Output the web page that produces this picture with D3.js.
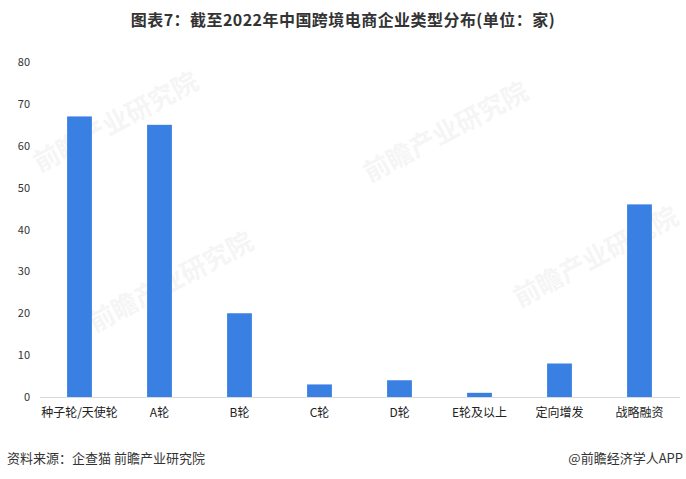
<!DOCTYPE html>
<html><head><meta charset="utf-8">
<script src="https://cdn.jsdelivr.net/npm/d3@7/dist/d3.min.js"></script>
<style>body{margin:0;background:#fff}svg{display:block}</style>
</head><body>
<script>
const categories = ["种子轮/天使轮","A轮","B轮","C轮","D轮","E轮及以上","定向增发","战略融资"];
const values = [67, 65, 20, 3, 4, 1, 8, 46];
const yTicks = [0,10,20,30,40,50,60,70,80];
const title = "图表7：截至2022年中国跨境电商企业类型分布(单位：家)";
const source = "资料来源：企查猫 前瞻产业研究院";
const credit = "@前瞻经济学人APP";
const watermark = "前瞻产业研究院";

const W=686,H=479;
const font = "'Microsoft YaHei','Noto Sans CJK SC',sans-serif";
const svg = d3.select("body").append("svg").attr("width",W).attr("height",H);
svg.append("rect").attr("width",W).attr("height",H).attr("fill","#fff");

// faint watermarks
[[120,130],[450,140],[175,290],[600,265]].forEach(([cx,cy])=>{
  svg.append("text").attr("transform",`translate(${cx},${cy}) rotate(-28)`)
    .attr("text-anchor","middle").attr("font-family",font).attr("font-size",26).attr("font-weight","bold")
    .attr("fill","#000").attr("opacity",0.035).text(watermark);
});

const x = d3.scaleBand().domain(categories).range([39.5,679.5]).paddingInner(0.69).paddingOuter(0.345);
const y = d3.scaleLinear().domain([0,80]).range([397,62]);

svg.append("text").attr("x",343).attr("y",26).attr("text-anchor","middle")
  .attr("font-family",font).attr("font-size",16).attr("font-weight","bold").attr("letter-spacing",0.45).attr("fill","#333").text(title);

const ya = svg.append("g").attr("transform","translate(30,0)")
  .call(d3.axisLeft(y).tickValues(yTicks).tickSize(0).tickPadding(0));
ya.select(".domain").remove();
ya.selectAll("text").attr("font-family",font).attr("font-size",11).attr("fill","#333");

svg.append("g").selectAll("rect").data(values).join("rect")
  .attr("x",(d,i)=>x(categories[i])).attr("width",x.bandwidth())
  .attr("y",d=>y(d)).attr("height",d=>y(0)-y(d)).attr("fill","#3a80e2");

const xa = svg.append("g").attr("transform",`translate(0,${y(0)})`)
  .call(d3.axisBottom(x).tickSize(0).tickPadding(11));
xa.select(".domain").attr("stroke","#d9d9d9");
xa.selectAll("text").attr("font-family",font).attr("font-size",12).attr("fill","#222");

svg.append("text").attr("x",7).attr("y",463).attr("font-family",font).attr("font-size",13).attr("fill","#333").text(source);
svg.append("text").attr("x",683).attr("y",463).attr("text-anchor","end").attr("font-family",font).attr("font-size",13).attr("fill","#333").text(credit);
</script>
</body></html>
